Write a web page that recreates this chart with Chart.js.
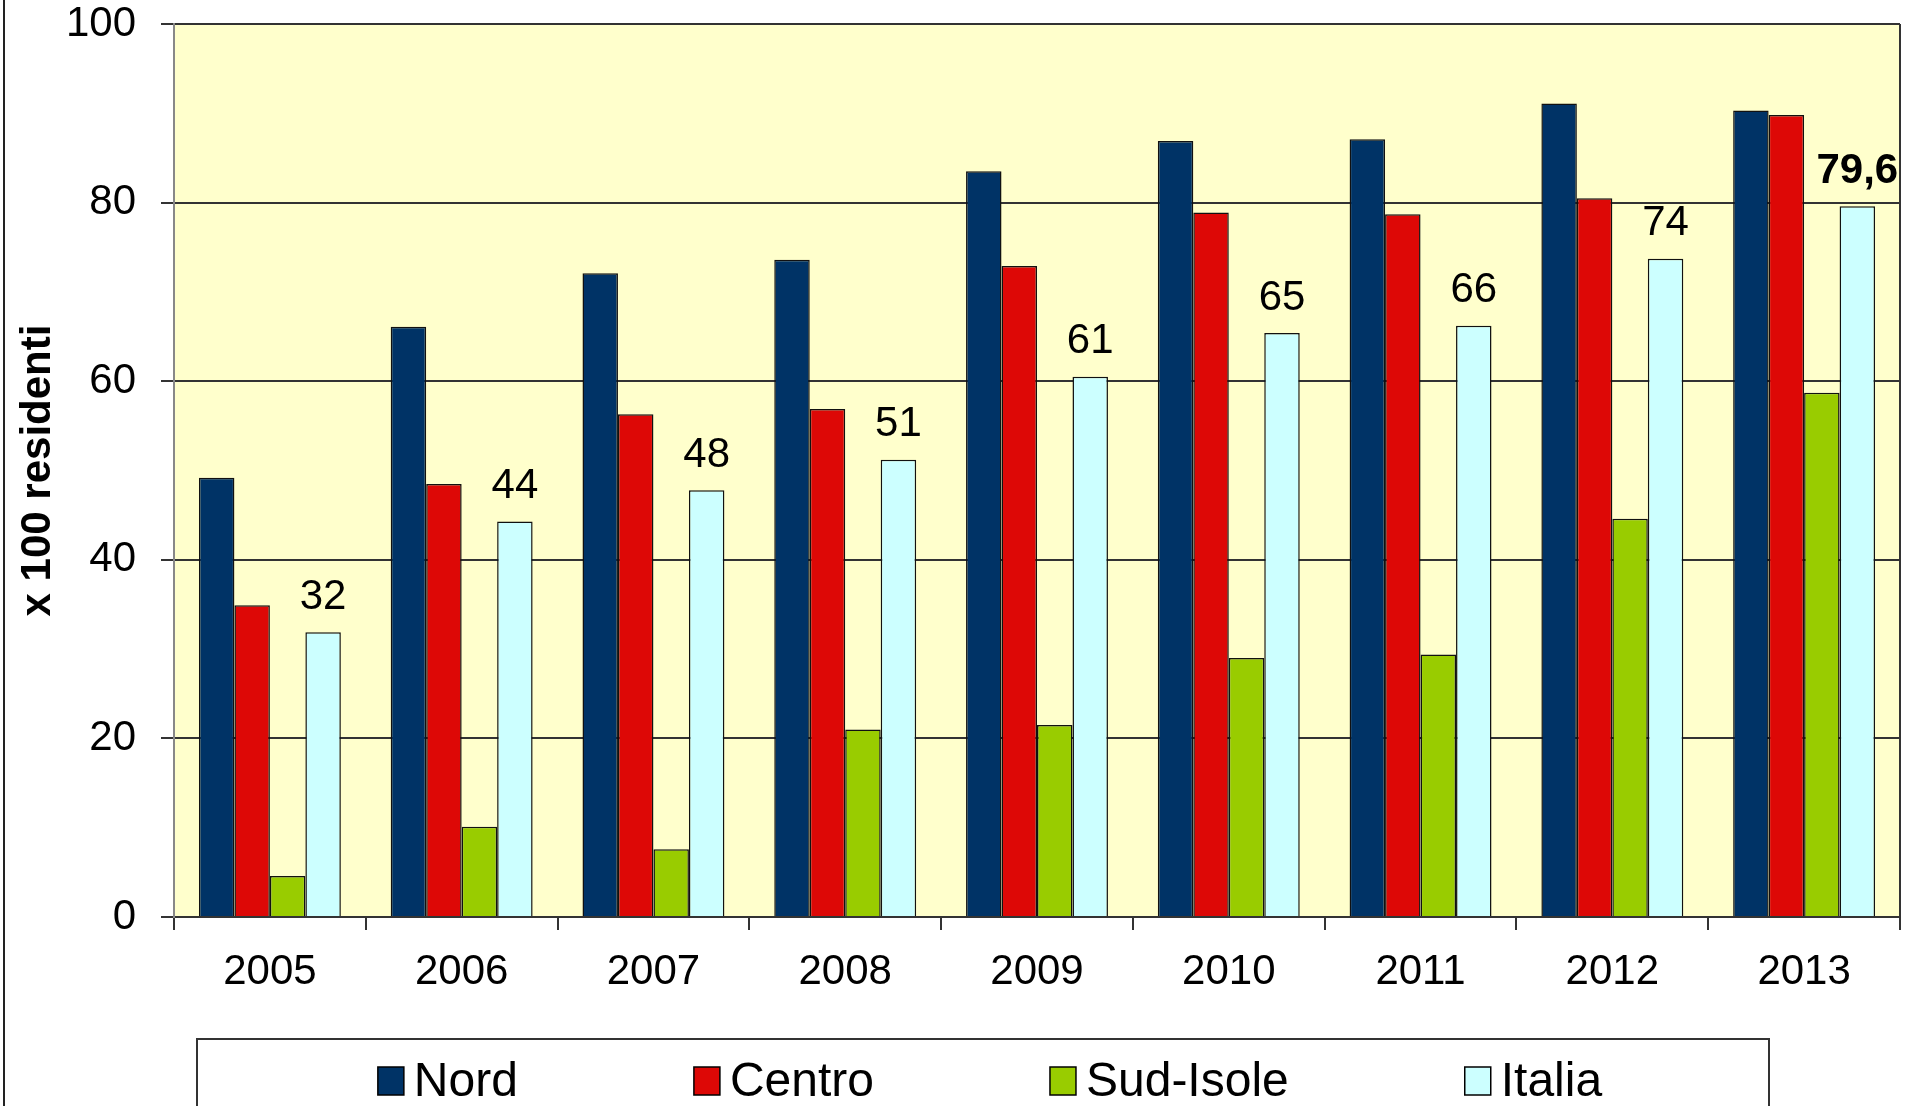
<!DOCTYPE html>
<html>
<head>
<meta charset="utf-8">
<script src="https://cdn.jsdelivr.net/npm/chart.js@4/dist/chart.umd.min.js"></script>
<style>
  html, body { margin: 0; padding: 0; background: #fff; }
  #wrap { width: 1906px; height: 1106px; position: relative; }
</style>
</head>
<body>
<div id="wrap"><canvas id="chart"></canvas></div>
<script>
// data
const years = ['2005', '2006', '2007', '2008', '2009', '2010', '2011', '2012', '2013'];
const nord = [49.2, 66.1, 72.1, 73.6, 83.5, 86.9, 87.1, 91.1, 90.3];
const centro = [34.9, 48.5, 56.3, 56.9, 72.9, 78.9, 78.7, 80.5, 89.8];
const sudIsole = [4.6, 10.1, 7.6, 21.0, 21.5, 29.0, 29.4, 44.6, 58.7];
const italia = [31.9, 44.3, 47.8, 51.2, 60.5, 65.4, 66.2, 73.7, 79.6];
const italiaLabels = ['32', '44', '48', '51', '61', '65', '66', '74', '79,6'];
const seriesNames = ['Nord', 'Centro', 'Sud-Isole', 'Italia'];
const yMin = 0, yMax = 100, yStep = 20;

const FONT = '"Liberation Sans", Arial, sans-serif';

// yellow plot background + right border
const plotBg = {
    id: 'plotBg',
    beforeDraw(chart) {
        const {ctx, chartArea: a} = chart;
        ctx.save();
        ctx.fillStyle = '#FFFFCC';
        ctx.fillRect(a.left, a.top, a.right - a.left, a.bottom - a.top);
        ctx.restore();
    },
    afterDraw(chart) {
        const {ctx, chartArea: a} = chart;
        ctx.save();
        ctx.strokeStyle = '#333';
        ctx.lineWidth = 2;
        ctx.beginPath();
        ctx.moveTo(a.right, a.top);
        ctx.lineTo(a.right, a.bottom);
        ctx.stroke();
        // frame line at the left edge of the picture
        ctx.strokeStyle = '#222';
        ctx.beginPath();
        ctx.moveTo(4, 0);
        ctx.lineTo(4, chart.height);
        ctx.stroke();
        ctx.restore();
    }
};

// value labels above the Italia bars
const italiaValues = {
    id: 'italiaValues',
    afterDatasetsDraw(chart) {
        const {ctx} = chart;
        const meta = chart.getDatasetMeta(3);
        ctx.save();
        ctx.fillStyle = '#000';
        ctx.textAlign = 'center';
        ctx.textBaseline = 'middle';
        meta.data.forEach((bar, i) => {
            const last = i === italiaLabels.length - 1;
            ctx.font = (last ? 'bold ' : '') + '42px ' + FONT;
            ctx.fillText(italiaLabels[i], bar.x, bar.y - 35);
        });
        ctx.restore();
    }
};

// boxed legend at the bottom
const boxLegend = {
    id: 'boxLegend',
    afterDraw(chart) {
        const {ctx} = chart;
        const left = 197, right = 1769, top = 1039;
        ctx.save();
        ctx.strokeStyle = '#333';
        ctx.lineWidth = 2;
        ctx.strokeRect(left, top, right - left, chart.height - top + 10);

        ctx.font = '48px ' + FONT;
        ctx.textBaseline = 'middle';
        ctx.textAlign = 'left';
        const boxW = 26, boxH = 28, gap = 10, itemGap = 176;
        const widths = chart.data.datasets.map(ds => boxW + gap + ctx.measureText(ds.label).width);
        const total = widths.reduce((s, w) => s + w, 0) + itemGap * (widths.length - 1);
        let x = 990 - total / 2;
        const cy = 1083;
        chart.data.datasets.forEach((ds, i) => {
            ctx.fillStyle = ds.backgroundColor;
            ctx.fillRect(x, cy - boxH / 2 - 2, boxW, boxH);
            ctx.strokeStyle = '#000';
            ctx.lineWidth = 1.5;
            ctx.strokeRect(x, cy - boxH / 2 - 2, boxW, boxH);
            ctx.fillStyle = '#000';
            ctx.fillText(ds.label, x + boxW + gap, cy);
            x += widths[i] + itemGap;
        });
        ctx.restore();
    }
};

const colors = ['#003366', '#DD0806', '#99CC00', '#CCFFFF'];
const values = [nord, centro, sudIsole, italia];

new Chart(document.getElementById('chart').getContext('2d'), {
    type: 'bar',
    data: {
        labels: years,
        datasets: seriesNames.map((name, i) => ({
            label: name,
            data: values[i],
            backgroundColor: colors[i],
            borderColor: '#111',
            borderWidth: 1.5,
            categoryPercentage: 0.74,
            barPercentage: 1.0,
        })),
    },
    options: {
        responsive: true,
        maintainAspectRatio: false,
        animation: false,
        layout: {padding: {top: 24, right: 6, bottom: 0, left: 0}},
        plugins: {
            legend: {display: false},
            tooltip: {enabled: false},
        },
        scales: {
            x: {
                afterFit(scale) { scale.height = 189; },
                grid: {
                    drawOnChartArea: false,
                    drawTicks: true,
                    tickLength: 13,
                    offset: true,
                    color: '#333',
                    lineWidth: 2,
                },
                border: {color: '#333', width: 2},
                ticks: {
                    color: '#000',
                    padding: 17,
                    font: {family: FONT, size: 42},
                },
            },
            y: {
                min: yMin,
                max: yMax,
                afterFit(scale) {
                    scale.width = 174;
                    scale.paddingTop = 0;
                    scale.paddingBottom = 0;
                },
                grid: {
                    color: '#333',
                    lineWidth: 2,
                    tickLength: 13,
                },
                border: {color: '#888', width: 2},
                ticks: {
                    stepSize: yStep,
                    color: '#000',
                    padding: 25,
                    font: {family: FONT, size: 42},
                },
                title: {
                    display: true,
                    text: 'x 100 residenti',
                    color: '#000',
                    padding: {top: 13, bottom: 0},
                    font: {family: FONT, size: 42, weight: 'bold'},
                },
            },
        },
    },
    plugins: [plotBg, italiaValues, boxLegend],
});
</script>
</body>
</html>
